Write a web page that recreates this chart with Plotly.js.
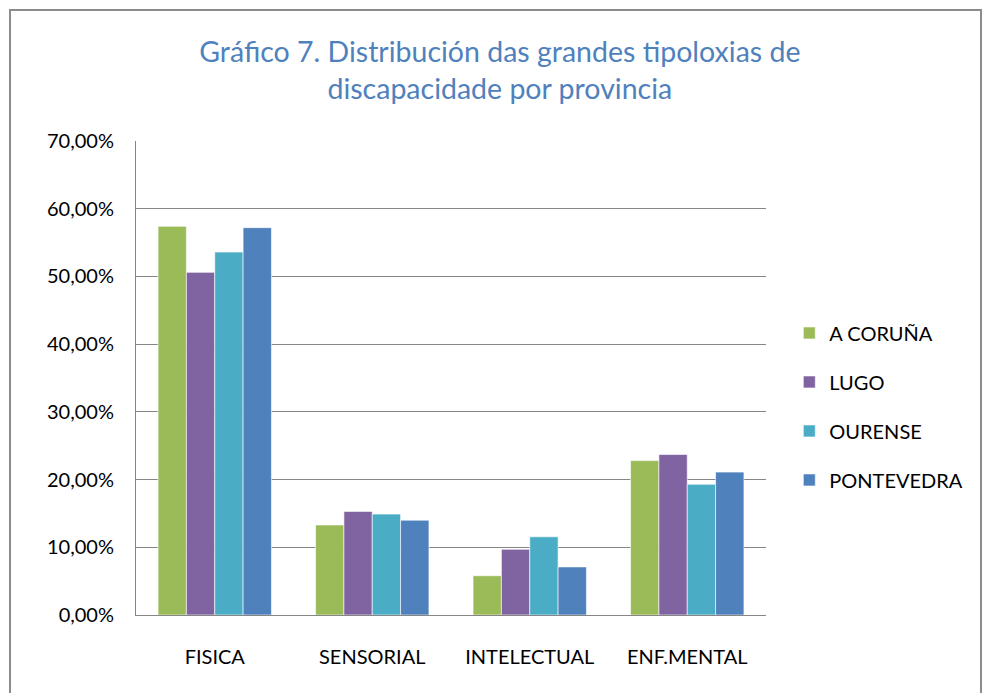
<!DOCTYPE html>
<html><head><meta charset="utf-8">
<script src="https://cdn.plot.ly/plotly-3.0.1.min.js"></script>
<style>
html,body{margin:0;padding:0;background:#fff;}
#frame{position:absolute;left:9px;top:9px;width:973px;height:700px;border:2px solid #8c8c8c;box-sizing:border-box;pointer-events:none;z-index:5;}
#chart{width:982px;height:693px;}
</style></head>
<body>
<div id="frame"></div>
<div id="chart"></div>
<script>
const categories = ["FISICA", "SENSORIAL", "INTELECTUAL", "ENF.MENTAL"];
const seriesNames = ["A CORUÑA", "LUGO", "OURENSE", "PONTEVEDRA"];
const aCoruna = [0.574, 0.133, 0.058, 0.228];
const lugo = [0.506, 0.153, 0.097, 0.237];
const ourense = [0.536, 0.149, 0.1155, 0.193];
const pontevedra = [0.572, 0.140, 0.071, 0.211];
const colors = ["#9BBB59", "#8064A2", "#4BACC6", "#4F81BD"];
const values = [aCoruna, lugo, ourense, pontevedra];

const font = "Lato, 'Open Sans', 'Liberation Sans', sans-serif";
const traces = values.map((v, i) => ({
  type: "bar", name: seriesNames[i], x: categories, y: v,
  marker: {color: colors[i], line: {color: "rgba(255,255,255,0.6)", width: 1}},
  legendgroup: "g" + i, hoverinfo: "none"
}));

const layout = {
  width: 982, height: 693,
  margin: {l: 136, r: 216, t: 141, b: 78, autoexpand: false},
  paper_bgcolor: "#fff", plot_bgcolor: "#fff",
  separators: ",.",
  bargap: 0.28, bargroupgap: 0,
  title: {text: "Gráfico 7. Distribución das grandes tipoloxias de<br>discapacidade por provincia",
    font: {family: font, size: 28.5, color: "#4F81BD"}, x: 0.509, xref: "container", xanchor: "center",
    y: 0.911, yref: "container", yanchor: "middle"},
  xaxis: {type: "category", tickfont: {family: font, size: 20, color: "#000"},
    showline: true, linecolor: "#868686", linewidth: 1, ticks: "", showgrid: false, zeroline: false,
    ticklabelstandoff: 24},
  yaxis: {range: [0, 0.7], dtick: 0.1, tickformat: ".2%", tickfont: {family: font, size: 20, color: "#000"},
    showgrid: true, gridcolor: "#868686", gridwidth: 1, showline: true, linecolor: "#868686",
    ticks: "", ticklen: 0, zeroline: false, fixedrange: true, ticklabelstandoff: 17},
  legend: {x: 1.037, xanchor: "left", y: 0.44, yanchor: "middle", font: {family: font, size: 20, color: "#000"},
    tracegroupgap: 20, bgcolor: "rgba(0,0,0,0)"},
  showlegend: true
};
Plotly.newPlot("chart", traces, layout, {staticPlot: true});
</script>
</body></html>
